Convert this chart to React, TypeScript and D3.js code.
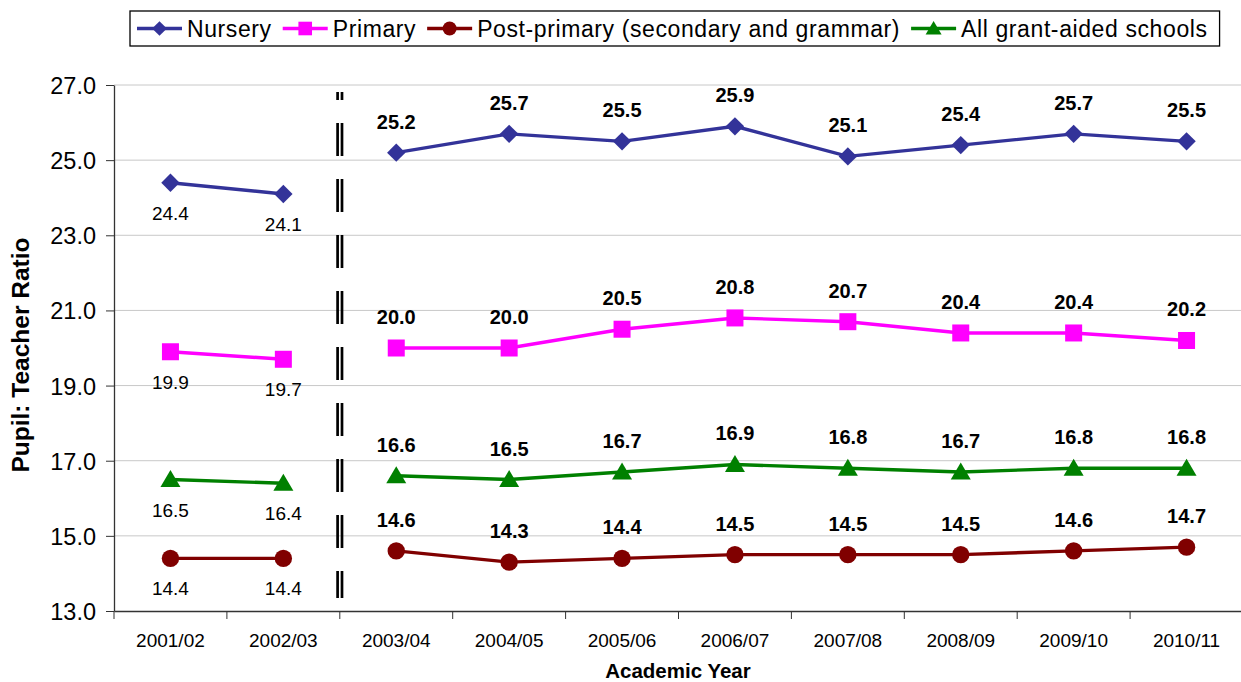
import React, { useRef, useEffect } from "react";
import * as d3 from "d3";

const years = ["2001/02", "2002/03", "2003/04", "2004/05", "2005/06", "2006/07", "2007/08", "2008/09", "2009/10", "2010/11"];
const nursery = [24.4, 24.1, 25.2, 25.7, 25.5, 25.9, 25.1, 25.4, 25.7, 25.5];
const primary = [19.9, 19.7, 20.0, 20.0, 20.5, 20.8, 20.7, 20.4, 20.4, 20.2];
const postPrimary = [14.4, 14.4, 14.6, 14.3, 14.4, 14.5, 14.5, 14.5, 14.6, 14.7];
const allSchools = [16.5, 16.4, 16.6, 16.5, 16.7, 16.9, 16.8, 16.7, 16.8, 16.8];
const yTicks = [13, 15, 17, 19, 21, 23, 25, 27];

const series = [
  { name: "Nursery", values: nursery, color: "#333399", marker: "diamond" },
  { name: "Primary", values: primary, color: "#FF00FF", marker: "square" },
  { name: "Post-primary (secondary and grammar)", values: postPrimary, color: "#800000", marker: "circle" },
  { name: "All grant-aided schools", values: allSchools, color: "#008000", marker: "triangle" },
];

const FONT = "Arial, 'Liberation Sans', sans-serif";
const W = 1241;
const H = 682;

function drawMarker(g: any, type: string, cx: number, cy: number, color: string, k = 1) {
  if (type === "diamond") {
    const s = 9.2 * k;
    g.append("path")
      .attr("d", `M${cx},${cy - s}L${cx + s},${cy}L${cx},${cy + s}L${cx - s},${cy}Z`)
      .attr("fill", color);
  } else if (type === "square") {
    const s = 8.5 * k;
    g.append("rect").attr("x", cx - s).attr("y", cy - s).attr("width", 2 * s).attr("height", 2 * s).attr("fill", color);
  } else if (type === "circle") {
    g.append("circle").attr("cx", cx).attr("cy", cy).attr("r", 8.7 * k).attr("fill", color);
  } else {
    g.append("path")
      .attr("d", `M${cx},${cy - 9.5 * k}L${cx + 10 * k},${cy + 7.5 * k}L${cx - 10 * k},${cy + 7.5 * k}Z`)
      .attr("fill", color);
  }
}

const App = () => {
  const svgRef = useRef<SVGSVGElement>(null);

  useEffect(() => {
    const svg = d3.select(svgRef.current);
    svg.selectAll("*").remove();

    const x = d3.scaleBand().domain(years).range([114, 1243]).padding(0);
    const y = d3.scaleLinear().domain([13, 27]).range([611, 85]);
    const cx = (d: string) => (x(d) as number) + x.bandwidth() / 2;

    // gridlines
    svg.append("g")
      .selectAll("line")
      .data(yTicks.slice(1))
      .join("line")
      .attr("x1", 114)
      .attr("x2", 1243)
      .attr("y1", (d) => y(d))
      .attr("y2", (d) => y(d))
      .attr("stroke", "#c8c8c8")
      .attr("stroke-width", 1);

    // y axis
    const yAxis = svg.append("g")
      .attr("transform", "translate(114,0)")
      .call(d3.axisLeft(y).tickValues(yTicks).tickFormat(d3.format(".1f")).tickSize(8).tickPadding(10).tickSizeOuter(0));
    yAxis.select(".domain").attr("stroke", "#333").attr("stroke-width", 1.3);
    yAxis.selectAll("line").attr("stroke", "#333");
    yAxis.selectAll("text").attr("font-family", FONT).attr("font-size", 23.5).attr("fill", "#000").attr("dy", "0.36em");

    // x axis
    const xAxis = svg.append("g")
      .attr("transform", "translate(0,611)")
      .call(d3.axisBottom(x).tickSize(0).tickSizeOuter(0));
    xAxis.select(".domain").attr("stroke", "#333").attr("stroke-width", 1.3);
    xAxis.selectAll("text")
      .attr("font-family", FONT)
      .attr("font-size", 19)
      .attr("fill", "#000")
      .attr("y", 36)
      .attr("dy", 0);
    svg.append("g")
      .selectAll("line")
      .data(years)
      .join("line")
      .attr("x1", (d) => x(d) as number)
      .attr("x2", (d) => x(d) as number)
      .attr("y1", 611)
      .attr("y2", 619)
      .attr("stroke", "#333");

    // separator between the two series periods
    const sepX = x(years[2]) as number;
    [-2.2, 2.2].forEach((off) => {
      svg.append("line")
        .attr("x1", sepX + off)
        .attr("x2", sepX + off)
        .attr("y1", 92)
        .attr("y2", 598)
        .attr("stroke", "#000")
        .attr("stroke-width", 2.7)
        .attr("stroke-dasharray", "33 23")
        .attr("stroke-dashoffset", 25);
    });

    // series
    series.forEach((s) => {
      const g = svg.append("g");
      const pts = s.values.map((v, i) => ({ year: years[i], v, i }));
      const line = d3.line<any>().x((d) => cx(d.year)).y((d) => y(d.v));
      [pts.slice(0, 2), pts.slice(2)].forEach((seg) => {
        g.append("path")
          .attr("d", line(seg))
          .attr("fill", "none")
          .attr("stroke", s.color)
          .attr("stroke-width", 3.4);
      });
      pts.forEach((p) => drawMarker(g, s.marker, cx(p.year), y(p.v), s.color));
      pts.forEach((p) => {
        const early = p.i < 2;
        g.append("text")
          .attr("x", cx(p.year))
          .attr("y", early ? y(p.v) + 37 : y(p.v) - 24)
          .attr("text-anchor", "middle")
          .attr("font-family", FONT)
          .attr("font-size", early ? 19 : 20)
          .attr("font-weight", early ? "normal" : "bold")
          .attr("fill", "#000")
          .text(p.v.toFixed(1));
      });
    });

    // axis titles
    svg.append("text")
      .attr("transform", "translate(29,355) rotate(-90)")
      .attr("text-anchor", "middle")
      .attr("font-family", FONT)
      .attr("font-size", 24.5)
      .attr("font-weight", "bold")
      .text("Pupil: Teacher Ratio");
    svg.append("text")
      .attr("x", 678)
      .attr("y", 678)
      .attr("text-anchor", "middle")
      .attr("font-family", FONT)
      .attr("font-size", 20.5)
      .attr("font-weight", "bold")
      .text("Academic Year");

    // legend
    const legend = svg.append("g");
    const box = legend.append("rect")
      .attr("y", 11)
      .attr("height", 35)
      .attr("fill", "#fff")
      .attr("stroke", "#000")
      .attr("stroke-width", 1.3);
    let lx = 137;
    series.forEach((s) => {
      legend.append("line")
        .attr("x1", lx)
        .attr("x2", lx + 45)
        .attr("y1", 28.5)
        .attr("y2", 28.5)
        .attr("stroke", s.color)
        .attr("stroke-width", 3.4);
      drawMarker(legend, s.marker, lx + 22.5, 28.5, s.color, 0.8);
      const t = legend.append("text")
        .attr("x", lx + 50)
        .attr("y", 36.5)
        .attr("font-family", FONT)
        .attr("font-size", 23)
        .attr("letter-spacing", 0.6)
        .attr("fill", "#000")
        .text(s.name);
      const tw = (t.node() as SVGTextElement).getComputedTextLength();
      lx = lx + 50 + tw + 11;
    });
    box.attr("x", 130).attr("width", lx - 130 + 1);
  }, []);

  return (
    <svg
      ref={svgRef}
      width={W}
      height={H}
      style={{ position: "absolute", left: 0, top: 0, display: "block", background: "#fff" }}
    />
  );
};

export default App;
